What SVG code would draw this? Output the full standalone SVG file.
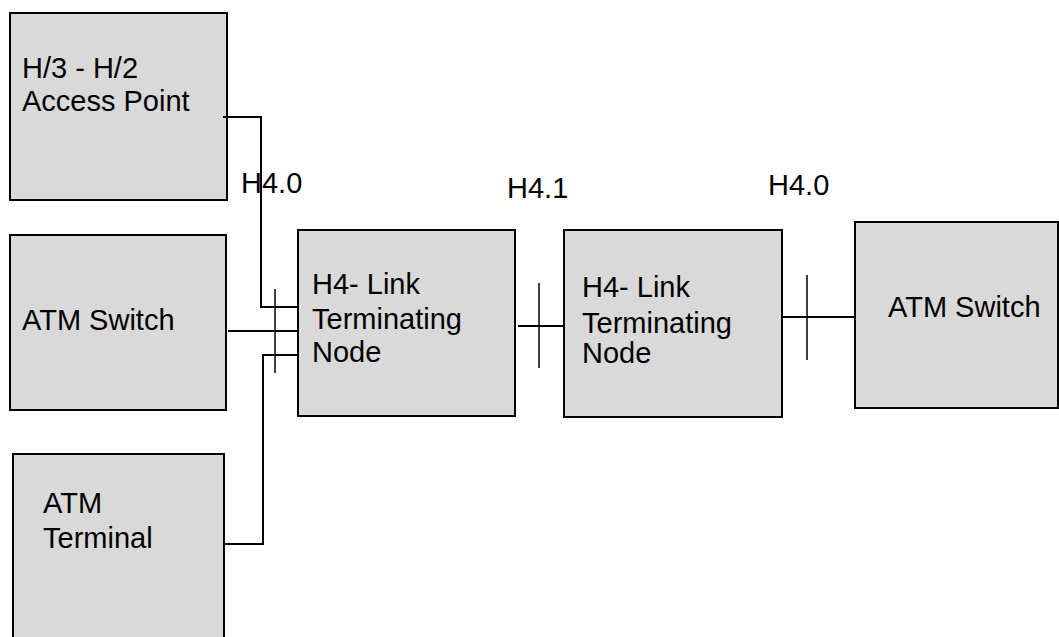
<svg xmlns="http://www.w3.org/2000/svg" width="1059" height="637" viewBox="0 0 1059 637">
<style>
.box{fill:#d9d9d9;stroke:#000;stroke-width:2}
.lbl{font-family:"Liberation Sans",Arial,sans-serif;font-size:29px;fill:#000}
.con{fill:none;stroke:#000;stroke-width:2}
.tick{fill:none;stroke:#000;stroke-width:1.5}
</style>
<rect width="1059" height="637" fill="#fff"/>
<g id="ap">
<rect class="box" x="10" y="13" width="217" height="187"/>
<text class="lbl" x="22" y="78">H/3 - H/2</text>
<text class="lbl" x="22" y="111">Access Point</text>
</g>
<g id="sw1">
<rect class="box" x="10" y="235" width="216" height="175"/>
<text class="lbl" x="22" y="330">ATM Switch</text>
</g>
<g id="term">
<rect class="box" x="13" y="454" width="211" height="200"/>
<text class="lbl" x="43" y="513">ATM</text>
<text class="lbl" x="43" y="548">Terminal</text>
</g>
<g id="ltn1">
<rect class="box" x="298" y="230" width="217" height="186"/>
<text class="lbl" x="312" y="294">H4- Link</text>
<text class="lbl" x="312" y="329">Terminating</text>
<text class="lbl" x="312" y="362">Node</text>
</g>
<g id="ltn2">
<rect class="box" x="564" y="230" width="218" height="187"/>
<text class="lbl" x="582" y="297">H4- Link</text>
<text class="lbl" x="582" y="333">Terminating</text>
<text class="lbl" x="582" y="363">Node</text>
</g>
<g id="sw2">
<rect class="box" x="855" y="222" width="203" height="186"/>
<text class="lbl" x="888" y="317">ATM Switch</text>
</g>
<g id="connectors">
<polyline class="con" points="223,117 261,117 261,307 299,307"/>
<line class="con" x1="228" y1="331" x2="299" y2="331"/>
<polyline class="con" points="225,544 263,544 263,355 299,355"/>
<line class="tick" x1="275" y1="289" x2="275" y2="373"/>
<line class="con" x1="518" y1="326" x2="564" y2="326"/>
<line class="tick" x1="539" y1="283" x2="539" y2="368"/>
<line class="con" x1="782" y1="317" x2="855" y2="317"/>
<line class="tick" x1="807" y1="275" x2="807" y2="360"/>
</g>
<g id="labels">
<text class="lbl" x="241" y="193">H4.0</text>
<text class="lbl" x="507" y="198">H4.1</text>
<text class="lbl" x="768" y="195">H4.0</text>
</g>
</svg>
